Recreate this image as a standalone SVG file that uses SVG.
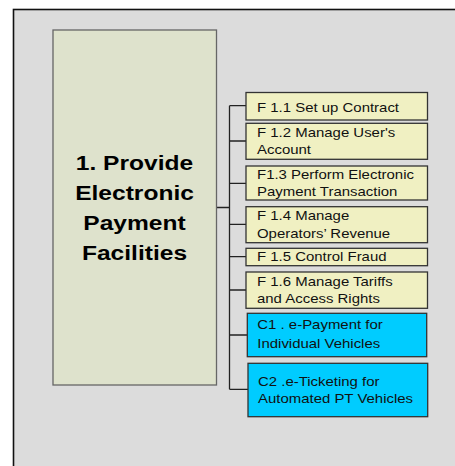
<svg xmlns="http://www.w3.org/2000/svg" width="455" height="466" viewBox="0 0 455 466">
<style>
.f{fill:#F0F0C2;stroke:#333;stroke-width:1.3}
.c{fill:#00CCFF;stroke:#333;stroke-width:1.3}
.t{font-family:"Liberation Sans",Arial,sans-serif;font-size:13px;fill:#111}
.m{font-family:"Liberation Sans",Arial,sans-serif;font-size:21px;font-weight:bold;fill:#000;text-anchor:middle}
.ln{stroke:#222;stroke-width:1.3;fill:none}
</style>
<rect x="0" y="0" width="455" height="466" fill="#fff"/>
<rect x="13.5" y="9.5" width="500" height="500" fill="#DCDCDC" stroke="#111" stroke-width="1.6"/>
<g id="connectors">
<path class="ln" d="M216.5,207.5H229.5M229.5,105.7V389.3M229.5,105.7H246M229.5,141H246M229.5,183.3H246M229.5,224.3H246M229.5,256.7H246M229.5,290H246M229.5,335H247.3M229.5,389.3H248"/>
</g>
<g id="main">
<rect x="53" y="30" width="163.5" height="355" fill="#DEE2CC" stroke="#666" stroke-width="1.3"/>
<text class="m" transform="translate(134.5,170) scale(1.17,1)">1. Provide</text>
<text class="m" transform="translate(134.5,200) scale(1.17,1)">Electronic</text>
<text class="m" transform="translate(134.5,230) scale(1.17,1)">Payment</text>
<text class="m" transform="translate(134.5,260) scale(1.17,1)">Facilities</text>
</g>
<g id="f11">
<rect class="f" x="246" y="92.5" width="181.5" height="27.5"/>
<text class="t" transform="translate(257,111.5) scale(1.15,1)">F 1.1 Set up Contract</text>
</g>
<g id="f12">
<rect class="f" x="246" y="123.3" width="181.5" height="36"/>
<text class="t" transform="translate(257,136.7) scale(1.15,1)">F 1.2 Manage User's</text>
<text class="t" transform="translate(257,154) scale(1.15,1)">Account</text>
</g>
<g id="f13">
<rect class="f" x="246" y="166" width="181.5" height="34"/>
<text class="t" transform="translate(257,179) scale(1.15,1)">F1.3 Perform Electronic</text>
<text class="t" transform="translate(257,196) scale(1.15,1)">Payment Transaction</text>
</g>
<g id="f14">
<rect class="f" x="246" y="206.7" width="181.5" height="36"/>
<text class="t" transform="translate(257,220) scale(1.15,1)">F 1.4 Manage</text>
<text class="t" transform="translate(257,238.3) scale(1.15,1)">Operators’ Revenue</text>
</g>
<g id="f15">
<rect class="f" x="246" y="248.3" width="181.5" height="17.4"/>
<text class="t" transform="translate(257,261) scale(1.15,1)">F 1.5 Control Fraud</text>
</g>
<g id="f16">
<rect class="f" x="246" y="272" width="181.5" height="36.3"/>
<text class="t" transform="translate(257,285.7) scale(1.15,1)">F 1.6 Manage Tariffs</text>
<text class="t" transform="translate(257,303.3) scale(1.15,1)">and Access Rights</text>
</g>
<g id="c1">
<rect class="c" x="247.3" y="313.3" width="179.4" height="43.4"/>
<text class="t" transform="translate(257.3,329.3) scale(1.15,1)">C1 . e-Payment for</text>
<text class="t" transform="translate(257.3,348.3) scale(1.15,1)">Individual Vehicles</text>
</g>
<g id="c2">
<rect class="c" x="248" y="363.3" width="179.7" height="53.4"/>
<text class="t" transform="translate(258,385.7) scale(1.15,1)">C2 .e-Ticketing for</text>
<text class="t" transform="translate(258,402.7) scale(1.15,1)">Automated PT Vehicles</text>
</g>
</svg>
